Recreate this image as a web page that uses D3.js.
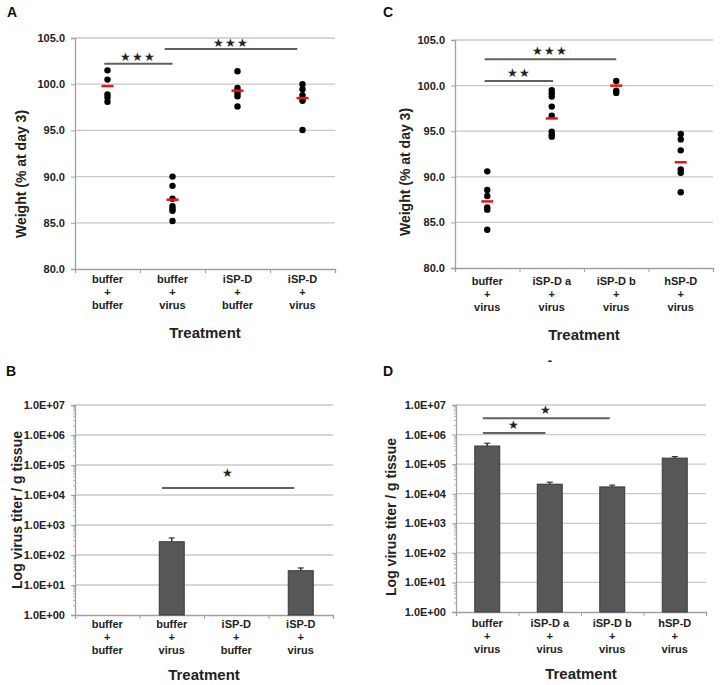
<!DOCTYPE html>
<html><head><meta charset="utf-8">
<script src="https://cdn.jsdelivr.net/npm/d3@7"></script>
<style>
body{margin:0;background:#fff;}
svg text{font-family:"Liberation Sans",Arial,sans-serif;}
</style></head>
<body>
<svg id="c" width="722" height="685"></svg>
<script>
// ---------- DATA ----------
const catsA = [["buffer","+","buffer"],["buffer","+","virus"],["iSP-D","+","buffer"],["iSP-D","+","virus"]];
const catsC = [["buffer","+","virus"],["iSP-D a","+","virus"],["iSP-D b","+","virus"],["hSP-D","+","virus"]];
const weightsA = [
  [101.5,100.5,98.9,98.6,98.1],
  [90.0,89.0,87.6,86.8,86.5,86.3,85.2],
  [101.4,99.6,99.3,99.0,98.7,97.6],
  [100.0,99.45,98.8,98.4,98.2,95.05]
];
const meansA = [99.8,87.5,99.3,98.5];
const weightsC = [
  [90.6,88.55,87.9,86.65,86.4,84.2],
  [99.5,99.15,98.8,97.7,96.7,94.95,94.6,94.4],
  [100.5,99.45,99.2],
  [94.7,94.1,92.9,90.8,90.45,88.3]
];
const meansC = [87.3,96.4,100.0,91.6];
const weightTicks = [80,85,90,95,100,105];
const titersB = [null,277,null,30];
const errB = [null,370,null,37];
const titersD = [410000,21000,17000,160000];
const errD = [510000,24500,19500,180000];
const logTicks = [1,10,100,1e3,1e4,1e5,1e6,1e7];
// significance: from/to in category units (0 = left edge of first band), y in data units
const sigA = [{from:0.45,to:1.5,y:102.2,label:"***"},{from:1.38,to:3.42,y:103.8,label:"***"}];
const sigC = [{from:0.46,to:1.52,y:100.5,label:"**"},{from:0.46,to:2.5,y:102.9,label:"***"}];
const sigB = [{from:1.35,to:3.4,y:17000,label:"*"}];
const sigD = [{from:0.43,to:1.43,y:1.12e6,label:"*"},{from:0.43,to:2.46,y:3.55e6,label:"*"}];

// ---------- DRAW ----------
const svg = d3.select("#c");
const GRID="#c8c8c8", AX="#a0a0a0", TXT="#222";

function panel(o){
  const g = svg.append("g");
  const x = d3.scaleLinear().domain([0,o.cats.length]).range([o.x0,o.x1]);
  const y = o.log ? d3.scaleLog().domain([1,1e7]).range([o.yb,o.yt])
                  : d3.scaleLinear().domain([80,105]).range([o.yb,o.yt]);
  const ticks = o.log ? logTicks : weightTicks;
  g.selectAll(".grid").data(ticks.slice(1)).join("line")
    .attr("x1",o.x0).attr("x2",o.x1).attr("y1",d=>y(d)).attr("y2",d=>y(d))
    .attr("stroke",GRID).attr("stroke-width",1.3);
  const yAxis = o.log ? d3.axisLeft(y).tickValues(ticks).tickFormat(d=>"1.0E+"+String(Math.round(Math.log10(d))).padStart(2,"0")).tickSize(4)
                      : d3.axisLeft(y).tickValues(ticks).tickFormat(d3.format(".1f")).tickSize(4);
  const ya = g.append("g").attr("transform",`translate(${o.x0},0)`).call(yAxis);
  ya.select(".domain").attr("stroke",AX).attr("stroke-width",1.3);
  ya.selectAll(".tick line").attr("stroke",AX);
  ya.selectAll(".tick text").attr("fill",TXT).attr("font-size",11).attr("font-weight","bold").attr("dx",-3);
  if(o.log){
    const minors=[];
    for(let e=0;e<7;e++) for(let k=2;k<10;k++) minors.push(k*Math.pow(10,e));
    g.selectAll(".minor").data(minors).join("line")
      .attr("x1",o.x0-2).attr("x2",o.x0).attr("y1",d=>y(d)).attr("y2",d=>y(d))
      .attr("stroke",AX).attr("stroke-width",0.8);
  }
  const xa = g.append("g").attr("transform",`translate(0,${o.yb})`)
    .call(d3.axisBottom(x).tickValues(d3.range(o.cats.length+1)).tickFormat("").tickSize(4));
  xa.select(".domain").attr("stroke",AX).attr("stroke-width",1.3);
  xa.selectAll(".tick line").attr("stroke",AX);
  o.cats.forEach((c,i)=>{
    const t = g.append("text").attr("x",x(i+0.5)).attr("y",o.yb+o.lab0)
      .attr("text-anchor","middle").attr("font-size",11).attr("font-weight","bold").attr("fill",TXT);
    c.forEach((s,j)=>t.append("tspan").attr("x",x(i+0.5)).attr("dy",j===0?0:(o.lineH)).text(s));
  });
  g.append("text").attr("x",(o.x0+o.x1)/2).attr("y",o.yb+o.tTitle).attr("text-anchor","middle")
    .attr("font-size",15).attr("font-weight","bold").attr("fill",TXT).text("Treatment");
  g.append("text").attr("transform",`translate(${o.ylx},${o.yly}) rotate(-90)`).attr("text-anchor","middle")
    .attr("font-size",14).attr("font-weight","bold").attr("fill",TXT).text(o.ylabel);
  g.append("text").attr("x",o.px).attr("y",o.py).attr("font-size",14).attr("font-weight","bold").attr("fill","#111").text(o.letter);

  if(o.values){
    o.values.forEach((vals,i)=>{
      g.selectAll(null).data(vals).join("circle")
        .attr("cx",x(i+0.5)).attr("cy",d=>y(d)).attr("r",3.2).attr("fill","#000");
    });
    g.selectAll(".mean").data(o.means).join("line")
      .attr("x1",(d,i)=>x(i+0.5)-6).attr("x2",(d,i)=>x(i+0.5)+6)
      .attr("y1",d=>y(d)).attr("y2",d=>y(d)).attr("stroke","#ee1111").attr("stroke-width",2.5);
  }
  if(o.bars){
    const bw=25;
    o.bars.forEach((v,i)=>{
      if(v==null) return;
      const cx=x(i+0.5);
      g.append("line").attr("x1",cx).attr("x2",cx).attr("y1",y(v)).attr("y2",y(o.errs[i]))
        .attr("stroke","#333").attr("stroke-width",1.5);
      g.append("line").attr("x1",cx-3).attr("x2",cx+3).attr("y1",y(o.errs[i])).attr("y2",y(o.errs[i]))
        .attr("stroke","#333").attr("stroke-width",1.2);
      g.append("rect").attr("x",cx-bw/2).attr("width",bw).attr("y",y(v)).attr("height",y(1)-y(v))
        .attr("fill","#575757").attr("stroke","#3a3a3a").attr("stroke-width",1);
    });
  }
  o.sig.forEach(s=>{
    g.append("line").attr("x1",x(s.from)).attr("x2",x(s.to)).attr("y1",y(s.y)).attr("y2",y(s.y))
      .attr("stroke","#606060").attr("stroke-width",2);
    g.append("text").attr("x",(x(s.from)+x(s.to))/2).attr("y",y(s.y)-o.sigGap).attr("text-anchor","middle")
      .attr("font-size",11.5).attr("fill","#222").attr("letter-spacing",1).text(s.label.replace(/\*/g,"\u2605"));
  });
  return g;
}

panel({cats:catsA,x0:75,x1:335,yb:269,yt:38,values:weightsA,means:meansA,sig:sigA,sigGap:2.5,
  lab0:14,lineH:13,tTitle:69,ylx:26,yly:174,ylabel:"Weight  (% at day 3)",letter:"A",px:7,py:17});
panel({cats:catsC,x0:455,x1:713,yb:268,yt:40,values:weightsC,means:meansC,sig:sigC,sigGap:4,
  lab0:17,lineH:13,tTitle:72,ylx:410,yly:172,ylabel:"Weight  (% at day 3)",letter:"C",px:383,py:17});
panel({cats:catsA,x0:75,x1:333,yb:615,yt:405,log:true,bars:titersB,errs:errB,sig:sigB,sigGap:11,
  lab0:13,lineH:13,tTitle:65,ylx:22,yly:510,ylabel:"Log virus titer / g tissue",letter:"B",px:6,py:376});
panel({cats:catsC,x0:456,x1:706,yb:612,yt:405,log:true,bars:titersD,errs:errD,sig:sigD,sigGap:4,
  lab0:15,lineH:13,tTitle:67,ylx:396,yly:517,ylabel:"Log virus titer / g tissue",letter:"D",px:383,py:376});
svg.append("text").attr("x",550).attr("y",365).attr("text-anchor","middle").attr("font-size",13).attr("font-weight","bold").attr("fill","#222").text("-");
</script>
</body></html>
